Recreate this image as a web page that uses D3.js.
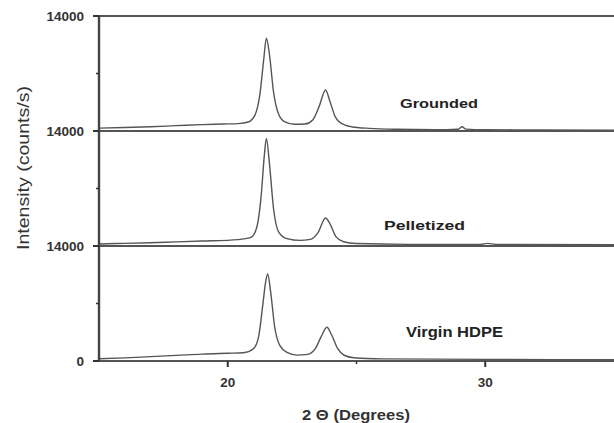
<!DOCTYPE html>
<html>
<head>
<meta charset="utf-8">
<script src="https://cdn.jsdelivr.net/npm/d3@7"></script>
<style>
  body { margin: 0; background: #fff; }
  svg { display: block; font-family: "Liberation Sans", Arial, sans-serif; }
</style>
</head>
<body>
<div class="container"></div>
<script>
// 2theta (deg), intensity (counts/s)
var grounded = [
  [15, 350], [16, 420], [17, 520], [18, 650], [19, 780], [19.8, 850], [20.4, 900],
  [20.8, 1100], [21.05, 1900], [21.25, 4500], [21.4, 8800], [21.5, 11300], [21.62, 9300],
  [21.78, 4700], [21.97, 2100], [22.2, 1150], [22.6, 820], [23.0, 850], [23.3, 1350],
  [23.55, 3000], [23.8, 5000], [23.97, 3600], [24.17, 1750], [24.4, 950], [24.8, 520],
  [25.5, 320], [26.5, 220], [28.5, 170], [28.95, 220], [29.1, 520], [29.25, 230],
  [30, 160], [32, 130], [35, 110]
];
var pelletized = [
  [15, 250], [16, 320], [17, 400], [18, 500], [19, 600], [20.4, 780], [20.9, 1050],
  [21.12, 2200], [21.3, 6200], [21.42, 11000], [21.5, 13100], [21.62, 10000], [21.78, 4500],
  [21.98, 1700], [22.3, 900], [22.8, 680], [23.2, 800], [23.5, 1600], [23.8, 3400],
  [23.97, 2700], [24.2, 1150], [24.5, 520], [25, 300], [27, 200], [29.8, 200],
  [30.1, 320], [30.4, 200], [35, 150]
];
var virgin = [
  [15, 280], [16, 380], [17, 530], [18, 680], [19, 840], [20, 940], [20.6, 1000],
  [21.0, 1500], [21.2, 3000], [21.36, 6800], [21.47, 9600], [21.55, 10600], [21.67, 8300],
  [21.82, 4200], [22.02, 1900], [22.3, 1050], [22.7, 720], [23.1, 800], [23.4, 1500],
  [23.62, 2900], [23.85, 4100], [24.03, 3200], [24.27, 1500], [24.52, 700], [24.9, 400],
  [26, 260], [30, 200], [35, 150]
];

var seriesNames = ["Grounded", "Pelletized", "Virgin HDPE"];
var seriesData = [grounded, pelletized, virgin];
var yTickLabels = ["14000", "14000", "14000", "0"];
var xTicks = [20, 30];
var xMinorTicks = [25];

var width = 614, height = 423;
var plotLeft = 99, plotRight = 614, plotTop = 16, panelH = 115;

var svg = d3.select('.container').append('svg')
  .attr('width', width).attr('height', height);

var x = d3.scaleLinear().domain([15, 35]).range([plotLeft, plotRight]);

var line = d3.line().curve(d3.curveMonotoneX);

// traces, one per stacked panel
seriesData.forEach(function(data, i){
  var y0 = plotTop + panelH * i;
  var y = d3.scaleLinear().domain([0, 14000]).range([y0 + panelH, y0]);
  line.x(function(d){ return x(d[0]); }).y(function(d){ return y(d[1]); });
  svg.append('path')
    .attr('d', line(data))
    .attr('fill', 'none')
    .attr('stroke', '#555')
    .attr('stroke-width', 1.4);
});

// panel separators + frame top
for(var i = 0; i<=3; i++){
  svg.append('line')
    .attr('x1', plotLeft).attr('x2', plotRight)
    .attr('y1', plotTop + panelH * i).attr('y2', plotTop + panelH * i)
    .attr('stroke', '#555').attr('stroke-width', 2.2);
}

// y axis
svg.append('line')
  .attr('x1', plotLeft).attr('x2', plotLeft)
  .attr('y1', plotTop).attr('y2', plotTop + panelH * 3 + 1)
  .attr('stroke', '#444').attr('stroke-width', 2.4);

for(var i = 0; i<=3; i++){
  var yy = plotTop + panelH * i;
  svg.append('line').attr('x1', plotLeft - 6).attr('x2', plotLeft)
    .attr('y1', yy).attr('y2', yy).attr('stroke', '#333').attr('stroke-width', 2);
  svg.append('text')
    .attr('x', 84).attr('y', yy + 5)
    .attr('text-anchor', 'end')
    .attr('font-size', 13.5).attr('font-weight', 'bold').attr('fill', '#333')
    .text(yTickLabels[i]);
  if(i < 3){
    svg.append('line').attr('x1', plotLeft - 3).attr('x2', plotLeft)
      .attr('y1', yy + panelH / 2).attr('y2', yy + panelH / 2)
      .attr('stroke', '#333').attr('stroke-width', 1.5);
  }
}

// x axis ticks
var xAxisY = plotTop + panelH * 3;
svg.selectAll('.xt').data(xTicks).enter().append('line')
  .attr('x1', function(d){ return x(d); }).attr('x2', function(d){ return x(d); })
  .attr('y1', xAxisY).attr('y2', xAxisY + 6)
  .attr('stroke', '#333').attr('stroke-width', 2);
svg.selectAll('.xm').data(xMinorTicks).enter().append('line')
  .attr('x1', function(d){ return x(d); }).attr('x2', function(d){ return x(d); })
  .attr('y1', xAxisY).attr('y2', xAxisY + 3)
  .attr('stroke', '#333').attr('stroke-width', 1.5);
svg.selectAll('.xl').data(xTicks).enter().append('text')
  .attr('x', function(d){ return x(d); }).attr('y', 387)
  .attr('text-anchor', 'middle')
  .attr('font-size', 13.5).attr('font-weight', 'bold').attr('fill', '#333')
  .text(function(d){ return d; });

// series labels
var labelPos = [[400, 108, 78, 12.5], [384, 230, 81, 12.5], [406, 337, 97, 14]];
seriesNames.forEach(function(name, i){
  svg.append('text')
    .attr('x', labelPos[i][0]).attr('y', labelPos[i][1])
    .attr('font-size', labelPos[i][3]).attr('font-weight', 'bold').attr('fill', '#222')
    .attr('textLength', labelPos[i][2]).attr('lengthAdjust', 'spacingAndGlyphs')
    .text(name);
});

// axis titles
svg.append('text')
  .attr('transform', 'translate(29,168) rotate(-90)')
  .attr('text-anchor', 'middle')
  .attr('font-size', 16).attr('fill', '#333')
  .attr('textLength', 164).attr('lengthAdjust', 'spacingAndGlyphs')
  .text('Intensity (counts/s)');

svg.append('text')
  .attr('x', 302).attr('y', 420)
  .attr('font-size', 14).attr('font-weight', 'bold').attr('fill', '#333')
  .attr('textLength', 108).attr('lengthAdjust', 'spacingAndGlyphs')
  .text('2 \u0398 (Degrees)');
</script>
</body>
</html>
